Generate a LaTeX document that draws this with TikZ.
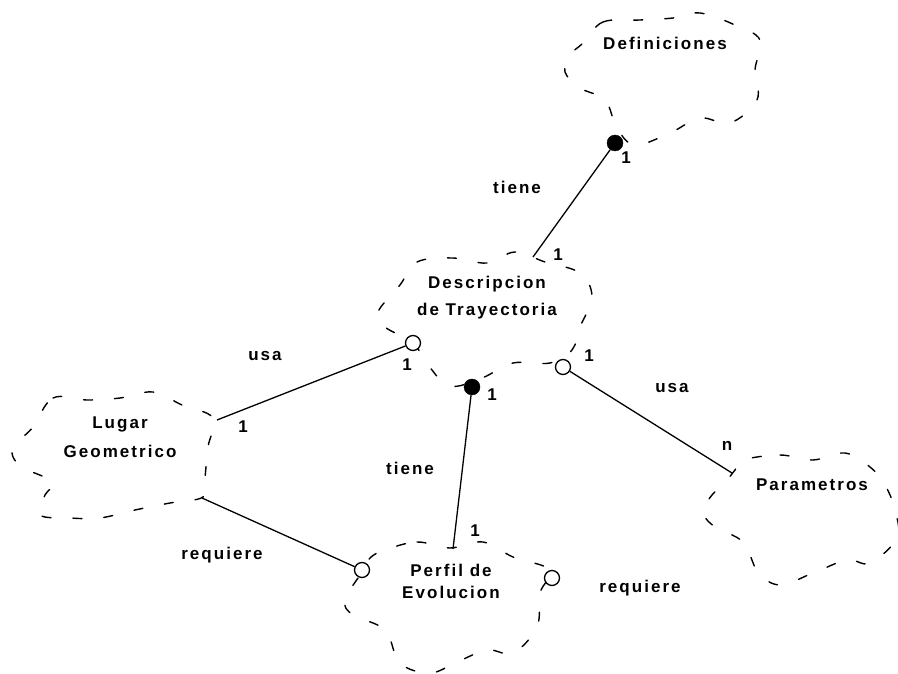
\documentclass[tikz,border=0pt]{standalone}
\usepackage{fontspec}
\newfontfamily\lbl{Liberation Sans}[LetterSpace=12]
\begin{document}
\begin{tikzpicture}[x=1pt,y=-1pt,
  every node/.style={font=\lbl\bfseries\fontsize{17}{20}\selectfont, inner sep=0pt},
  cloudline/.style={line width=1.4pt, dash pattern=on 9pt off 22pt, line cap=round},
  link/.style={line width=1.3pt},
  fulldot/.style={circle, fill=black, draw=black, minimum size=16pt},
  opendot/.style={circle, fill=white, draw=black, line width=1.3pt, minimum size=15pt},
  cname/.style={align=center},
  tag/.style={}]
\useasboundingbox (0,0) rectangle (898,674);

% class outlines
\draw[cloudline] plot[smooth cycle, tension=0.6] coordinates {
  (583,43) (603,22) (640,20) (673,18) (700,13) (735,25) (760,40) (755,70)
  (757,100) (730,123) (700,118) (670,133) (635,145) (617,128) (605,100)
  (580,88) (565,72) (570,55)};
\draw[cloudline] plot[smooth cycle, tension=0.6] coordinates {
  (400,285) (417,262) (453,258) (487,263) (515,252) (545,262) (580,273)
  (592,297) (580,327) (572,350) (550,363) (513,363) (482,378) (450,386)
  (428,365) (413,343) (385,327) (378,312)};
\draw[cloudline] plot[smooth cycle, tension=0.6] coordinates {
  (33,427) (53,398) (87,400) (120,398) (153,392) (182,405) (213,418)
  (208,447) (205,478) (203,497) (170,503) (135,510) (100,518) (70,518)
  (40,515) (45,495) (53,482) (22,467) (12,453) (20,440)};
\draw[cloudline] plot[smooth cycle, tension=0.6] coordinates {
  (743,460) (780,455) (813,460) (845,453) (870,467) (885,485) (895,510)
  (897,538) (870,563) (847,560) (813,573) (780,585) (758,572) (743,542)
  (715,527) (703,512) (712,495) (723,485) (735,470)};
\draw[cloudline] plot[smooth cycle, tension=0.6] coordinates {
  (385,550) (417,542) (450,548) (483,542) (513,557) (550,570) (540,593)
  (537,627) (513,653) (487,650) (457,662) (430,673) (400,663) (385,630)
  (353,615) (345,600) (362,572) (370,558)};

% class names
\node[cname] (def) at (665,43) {Definiciones};
\node[cname] (desc) at (487,298) {Descripcion\\[7pt]de Trayectoria};
\node[cname] (lug) at (120,437) {Lugar\\[9pt]Geometrico};
\node[cname] (par) at (812,485) {Parametros};
\node[cname] (perf) at (451,581) {Perfil de\\[2pt]Evolucion};

% adornments
\node[fulldot] (dA) at (615,143) {};
\node[fulldot] (dB) at (472,387) {};
\node[opendot] (oA) at (413,343) {};
\node[opendot] (oB) at (563,367) {};
\node[opendot] (oC) at (362,570) {};
\node[opendot] (oD) at (552,578) {};

% connector ends on the outlines
\coordinate (eDesc) at (533,257);
\coordinate (eLug) at (217,420);
\coordinate (eLug2) at (202,498);
\coordinate (ePerf) at (453,549);
\coordinate (ePar) at (732,473);

\draw[link] (dA) -- (eDesc);
\draw[link] (oA) -- (eLug);
\draw[link] (dB) -- (ePerf);
\draw[link] (oB) -- (ePar);
\draw[link] (eLug2) -- (oC);

% association labels
\node[tag] at (517,187) {tiene};
\node[tag] at (265,356) {usa};
\node[tag] at (410,468) {tiene};
\node[tag] at (672,388) {usa};
\node[tag] at (222,555) {requiere};
\node[tag] at (640,588) {requiere};

% multiplicities
\node[tag] at (626,158) {1};
\node[tag] at (558,255) {1};
\node[tag] at (407,365) {1};
\node[tag] at (589,356) {1};
\node[tag] at (492,395) {1};
\node[tag] at (243,427) {1};
\node[tag] at (475,531) {1};
\node[tag] at (727,446) {n};
\end{tikzpicture}
\end{document}
